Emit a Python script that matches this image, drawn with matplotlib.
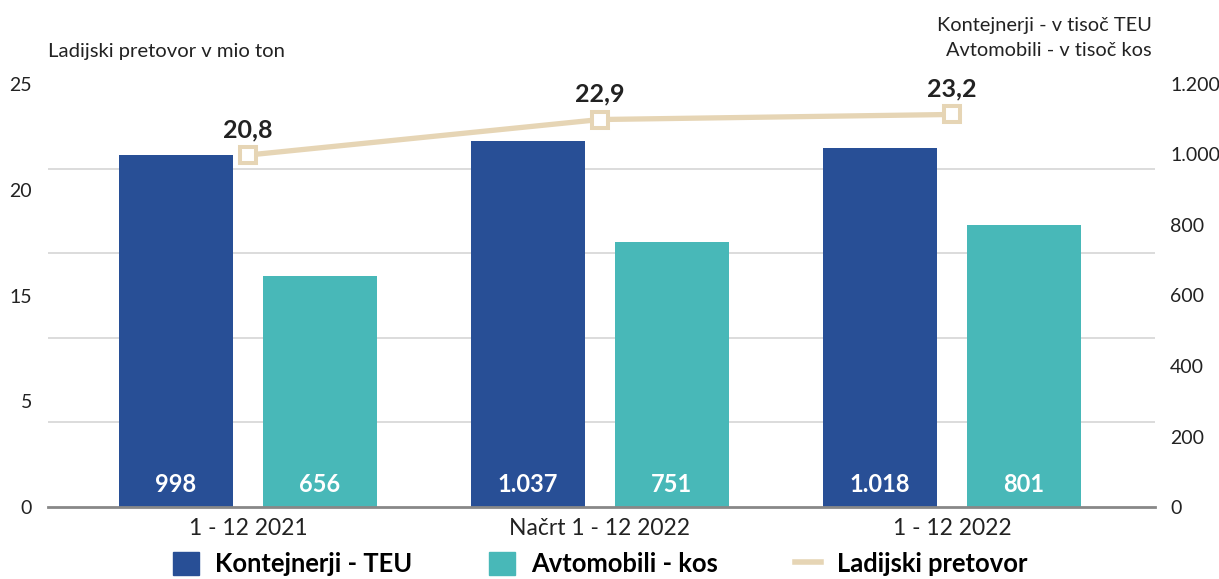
import matplotlib
matplotlib.use("Agg")
import matplotlib.pyplot as plt
import numpy as np
from matplotlib.patches import Patch
from matplotlib.lines import Line2D

categories = ["1 - 12 2021", "Načrt 1 - 12 2022", "1 - 12 2022"]
kontejnerji = [998, 1037, 1018]
avtomobili = [656, 751, 801]
pretovor = [20.8, 22.9, 23.2]
kontejnerji_lbl = ["998", "1.037", "1.018"]
avtomobili_lbl = ["656", "751", "801"]
pretovor_lbl = ["20,8", "22,9", "23,2"]
left_tick_labels = ["0", "5", "15", "20", "25"]
right_ticks = [0, 200, 400, 600, 800, 1000, 1200]
right_tick_labels = ["0", "200", "400", "600", "800", "1.000", "1.200"]

plt.rcParams['font.family'] = ['Lato', 'DejaVu Sans']

C_DARK = "#284f96"
C_TEAL = "#48b8b8"
C_LINE = "#e6d5b5"
C_TEXT = "#222222"

fig = plt.figure(figsize=(12.19, 5.79), dpi=100)
ax = fig.add_axes([48/1219, 72/579, (1155-48)/1219, 423/579])
ax2 = ax.twinx()

x = np.arange(len(categories))
w = 0.324
off = 0.2045

# bars on right-scale axis (ax)
ax.set_ylim(0, 1200)
ax.set_xlim(-0.568, 2.577)
ax.bar(x - off, kontejnerji, w, color=C_DARK, zorder=3)
ax.bar(x + off, avtomobili, w, color=C_TEAL, zorder=3)
for xi, lbl in zip(x - off, kontejnerji_lbl):
    ax.text(xi, 42, lbl, ha="center", va="baseline", color="white",
            fontsize=17, fontweight="bold", zorder=4)
for xi, lbl in zip(x + off, avtomobili_lbl):
    ax.text(xi, 42, lbl, ha="center", va="baseline", color="white",
            fontsize=17, fontweight="bold", zorder=4)

# gridlines at the left-scale steps (0,5,...,25)
ax.set_yticks(np.linspace(0, 1200, 6), minor=True)
ax.grid(True, which="minor", axis="y", color="#d6d6d6", linewidth=1.2, zorder=0)
ax.grid(False, which="major")
ax.set_axisbelow(True)
ax.set_yticks(right_ticks)
ax.set_yticklabels(right_tick_labels)
ax.yaxis.tick_right()
ax.tick_params(axis="y", which="both", length=0, pad=11, labelsize=14, labelcolor=C_TEXT)
ax.set_xticks(x)
ax.set_xticklabels(categories)
ax.tick_params(axis="x", length=0, pad=8, labelsize=16.5, labelcolor=C_TEXT)
for s in ["top", "left", "right"]:
    ax.spines[s].set_visible(False)
ax.spines["bottom"].set_color("#888888")
ax.spines["bottom"].set_linewidth(2)
ax.spines["bottom"].set_zorder(5)

# line on left-scale axis (ax2)
ax2.set_ylim(0, 25)
ax2.plot(x, pretovor, color=C_LINE, linewidth=3.8, marker="s", markersize=11,
         markerfacecolor="white", markeredgecolor=C_LINE, markeredgewidth=2.9, zorder=5)
for xi, v, lbl in zip(x, pretovor, pretovor_lbl):
    ax2.annotate(lbl, (xi, v), xytext=(0, 13), textcoords="offset points",
                 ha="center", va="baseline", fontsize=18, fontweight="bold", color=C_TEXT)
ax2.set_yticks(np.linspace(0, 25, 5))
ax2.set_yticklabels(left_tick_labels)
ax2.yaxis.tick_left()
ax2.tick_params(axis="y", length=0, pad=11.5, labelsize=14, labelcolor=C_TEXT)
for s in ["top", "left", "right", "bottom"]:
    ax2.spines[s].set_visible(False)

# axis titles
fig.text(48/1219, 1 - 51/579, "Ladijski pretovor v mio ton", ha="left", va="center",
         fontsize=14.6, color=C_TEXT)
fig.text(1152/1219, 1 - 25/579, "Kontejnerji - v tisoč TEU", ha="right", va="center",
         fontsize=14.4, color=C_TEXT)
fig.text(1152/1219, 1 - 50/579, "Avtomobili - v tisoč kos", ha="right", va="center",
         fontsize=14.4, color=C_TEXT)

handles = [Patch(color=C_DARK), Patch(color=C_TEAL),
           Line2D([0], [0], color=C_LINE, linewidth=4)]
labels = ["Kontejnerji - TEU", "Avtomobili - kos", "Ladijski pretovor"]
fig.legend(handles, labels, loc="center", bbox_to_anchor=(600/1219, 1 - 564/579),
           ncol=3, frameon=False, prop={"size": 18.4, "weight": "bold"},
           handlelength=1.02, handleheight=1.02, handletextpad=0.63, columnspacing=3.0,
           borderpad=0, borderaxespad=0)

fig.savefig("out.png", dpi=100)
